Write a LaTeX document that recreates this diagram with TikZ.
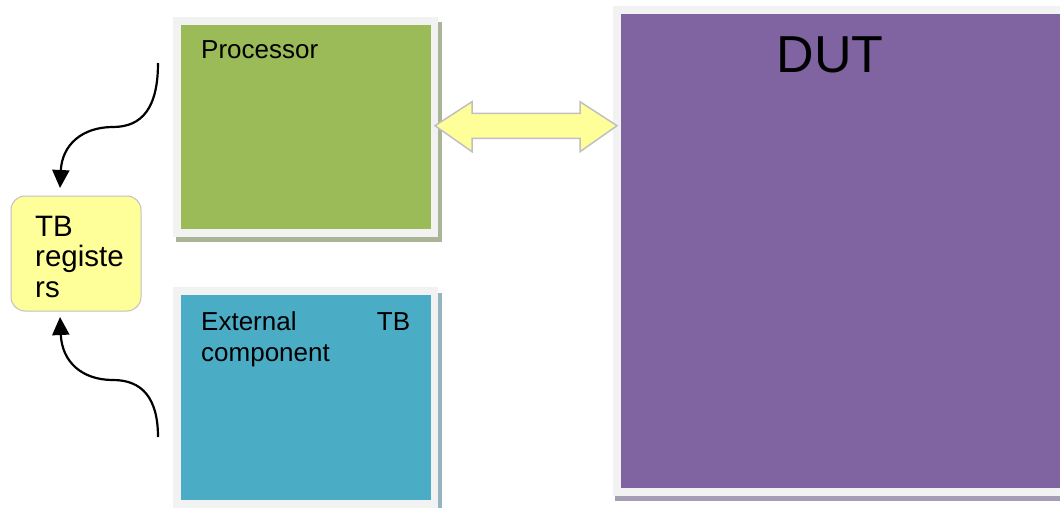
\documentclass[tikz,border=0pt]{standalone}
\usepackage{fontspec}
\setmainfont{Liberation Sans}
\usetikzlibrary{arrows.meta}
\definecolor{procgreen}{HTML}{9BBB59}
\definecolor{extblue}{HTML}{4BACC6}
\definecolor{dutpurple}{HTML}{8064A2}
\definecolor{framegray}{HTML}{F2F2F2}
\definecolor{shgreen}{HTML}{A9B596}
\definecolor{shblue}{HTML}{94B4C2}
\definecolor{shpurple}{HTML}{A59DB3}
\definecolor{regyellow}{HTML}{FFFF99}
\definecolor{edgegray}{HTML}{C0C0C0}
\begin{document}
\begin{tikzpicture}[x=1pt,y=-1pt,
  inner box/.style={anchor=north west, inner sep=0, outer sep=0},
  label text/.style={anchor=base west, inner sep=0, align=left},
  curvy/.style={line width=2.2, -{Triangle[length=18,width=17]}}]
\useasboundingbox (0,0) rectangle (1060,508);
\fill[white] (0,0) rectangle (1060,508);
% Processor
\fill[shgreen] (176,22) rectangle (442,242);
\fill[framegray] (173,17) rectangle (438,237);
\node[inner box, fill=procgreen, minimum width=250, minimum height=204] (proc) at (181,25) {};
\node[label text, font=\fontsize{26}{31}\selectfont] (proctext) at (201,59) {Processor};
% External TB component
\fill[shblue] (176,293) rectangle (442,512);
\fill[framegray] (173,287) rectangle (438,508);
\node[inner box, fill=extblue, minimum width=250, minimum height=205] (ext) at (181,295) {};
\node[label text, font=\fontsize{26}{31}\selectfont] (exttext) at (201,361) {\makebox[209pt][s]{External\hfill TB}\\component};
% DUT
\fill[shpurple] (615,10) rectangle (1064,501);
\fill[framegray] (613,6) rectangle (1064,496);
\node[inner box, fill=dutpurple, minimum width=445, minimum height=474] (dut) at (621,14) {};
\node[anchor=base, inner sep=0, font=\fontsize{52}{60}\selectfont] (duttext) at (830,73) {DUT};
% TB registers
\node[inner box, draw=edgegray, line width=1, fill=regyellow, rounded corners=14, minimum width=130, minimum height=115] (tbreg) at (11,196) {};
\node[label text, font=\fontsize{29.5}{30.2}\selectfont] (tbtext) at (35,297) {TB\\registe\\rs};
% curved arrows
\coordinate (a1s) at (158,63);
\coordinate (a1e) at (60,188);
\coordinate (a2s) at (158,437);
\coordinate (a2e) at (60,317);
\draw[curvy] (a1s) .. controls (158,108) and (142,127) .. (113,127) .. controls (82,127) and (62,145) .. (a1e);
\draw[curvy] (a2s) .. controls (158,398) and (142,380) .. (113,380) .. controls (82,380) and (62,362) .. (a2e);
% double arrow
\draw[fill=regyellow, draw=edgegray, line width=1.5, line join=miter]
  (435,125.7) -- (472,101.7) -- (472,113.3) -- (580,113.3) -- (580,101.7) -- (617,125.7)
  -- (580,151.7) -- (580,138.3) -- (472,138.3) -- (472,151.7) -- cycle;
\end{tikzpicture}
\end{document}
